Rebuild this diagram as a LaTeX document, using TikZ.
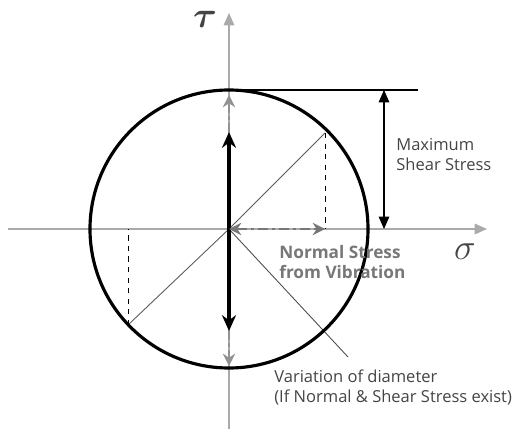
\documentclass[tikz,border=0pt]{standalone}
\usepackage{fontspec}
\usepackage{bm}
\setmainfont{Open Sans}
\usetikzlibrary{arrows.meta, positioning}
\definecolor{axisgray}{HTML}{AAAAAA}
\definecolor{txtgray}{HTML}{444444}
\definecolor{vibgray}{HTML}{777777}

\begin{document}
\begin{tikzpicture}[x=0.02cm, y=-0.02cm,
    axis/.style={draw=axisgray, line width=0.8pt, -{Triangle[length=7pt, width=6pt]}},
    vib/.style={draw=vibgray, line width=1.6pt, dash pattern=on 6pt off 2pt on 2pt off 2pt,
                {Stealth[length=7pt, width=7pt]}-{Stealth[length=7pt, width=7pt]}},
    vibv/.style={draw=vibgray!80, line width=1.4pt, dash pattern=on 5pt off 2pt on 2pt off 2pt,
                -{Stealth[length=7pt, width=7pt]}},
    lbl/.style={font=\fontsize{9.4}{11.4}\selectfont, text=txtgray, align=left, inner sep=0pt}]
    \useasboundingbox (0,0) rectangle (517,429);
    % axes
    \coordinate (O) at (229,229);
    \coordinate (xs) at (8,229);   \coordinate (xe) at (487,229);
    \coordinate (ys) at (229,429); \coordinate (ye) at (229,13);
    \draw[axis] (xs) -- (xe);
    \draw[axis] (ys) -- (ye);
    \node[text=txtgray, font=\fontsize{21}{24}\selectfont] (tau) at (205,19) {$\bm{\tau}$};
    \node[text=txtgray, font=\fontsize{21}{24}\selectfont] (sig) at (465,252) {$\sigma$};
    % diameter lines
    \coordinate (p) at (325,133);
    \coordinate (q) at (128,325);
    \coordinate (r) at (348,357);
    \draw[black!65, line width=0.5pt] (O) -- (p);
    \draw[black!65, line width=0.5pt] (O) -- (q);
    \draw[black!70, line width=0.5pt] (O) -- (r);
    \draw[dashed, line width=0.5pt] (p) -- (p |- O);
    \draw[dashed, line width=0.5pt] (q) -- (q |- O);
    % circle
    \draw[line width=1.8pt] (O) circle (139);
    % maximum shear stress
    \coordinate (top) at (229,90);
    \coordinate (topend) at (418,90);
    \draw[line width=0.6pt] (top) -- (topend);
    \draw[line width=0.6pt, {Triangle[length=7pt, width=6pt]}-{Triangle[length=7pt, width=6pt]}]
        (384,90) -- (384,229);
    \node[lbl, anchor=west] (maxs) at (396,155) {Maximum\\Shear Stress};
    % shear stress from vibration
    \coordinate (tu) at (229,132);
    \coordinate (td) at (229,331);
    \draw[line width=1.8pt, {Stealth[length=9pt, width=8pt]}-{Stealth[length=9pt, width=8pt]}] (tu) -- (td);
    \draw[vibv] (tu) -- (229,95);
    \draw[vibv] (td) -- (229,366);
    % normal stress from vibration
    \draw[vib] (O) -- (p |- O);
    \node[lbl, font=\fontsize{9.8}{11.4}\selectfont\bfseries, text=vibgray, anchor=west]
        (norm) at (279,262) {Normal Stress\\from Vibration};
    \node[lbl, anchor=west] (var) at (274,387) {Variation of diameter\\(If Normal \& Shear Stress exist)};
\end{tikzpicture}
\end{document}
